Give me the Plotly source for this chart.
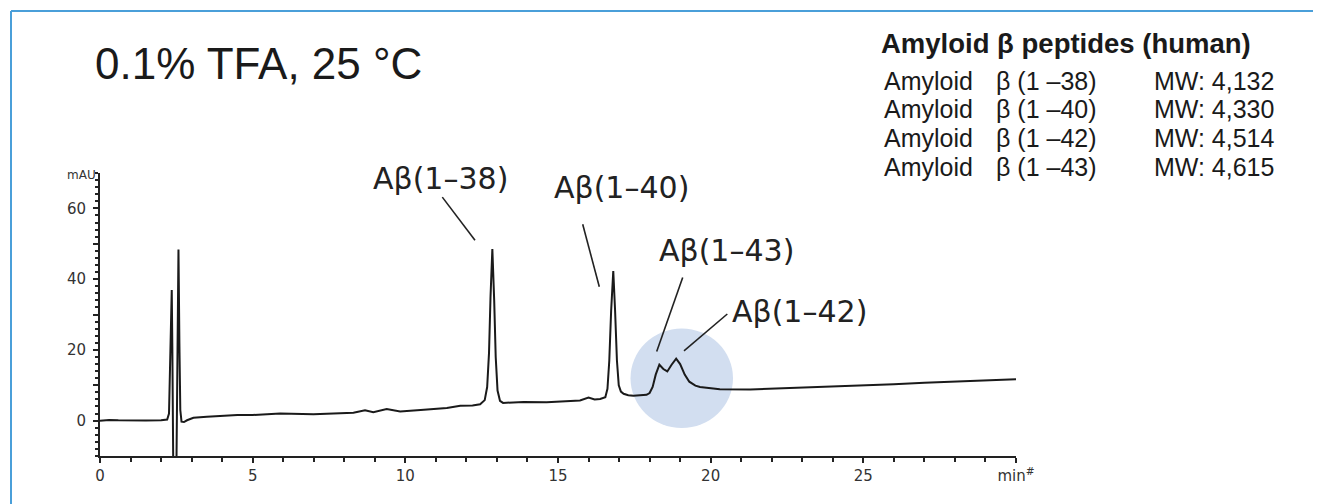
import plotly.graph_objects as go

# Retention time (min) and absorbance (mAU)
time_min = [0.0, 0.3, 0.6, 1.0, 1.5, 2.0, 2.2, 2.26, 2.29, 2.32, 2.35, 2.37, 2.39, 2.41,
            2.49, 2.51, 2.54, 2.57, 2.60, 2.63, 2.67, 2.75, 2.85, 3.06, 3.5, 3.93, 4.5,
            5.0, 5.9, 6.99, 7.6, 8.3, 8.68, 8.95, 9.39, 9.83, 10.5, 11.36, 11.8, 12.2,
            12.45, 12.6, 12.68, 12.74, 12.79, 12.85, 12.91, 12.96, 13.02, 13.1, 13.2,
            13.87, 14.63, 15.2, 15.72, 16.0, 16.2, 16.38, 16.55, 16.62, 16.68, 16.74,
            16.81, 16.87, 16.93, 16.99, 17.06, 17.15, 17.3, 17.47, 17.9, 18.0, 18.1,
            18.2, 18.32, 18.45, 18.58, 18.72, 18.87, 19.0, 19.15, 19.3, 19.5, 19.65,
            20.0, 20.3, 21.3, 22.0, 23.0, 24.0, 25.0, 26.0, 27.0, 28.0, 29.0, 30.0]
signal_mau = [0.0, 0.2, 0.1, 0.0, 0.05, 0.1, 0.3, 2.0, 14.0, 31.0, 36.9, 20.0, -4.0, -25.0,
              -25.0, -4.0, 22.0, 48.4, 22.0, 3.0, -0.3, -0.4, 0.1, 0.8, 1.1, 1.4, 1.6,
              1.6, 2.0, 1.8, 2.0, 2.2, 2.9, 2.4, 3.3, 2.6, 3.0, 3.6, 4.2, 4.3,
              4.6, 5.8, 9.5, 19.0, 35.0, 48.5, 34.0, 18.0, 8.5, 5.6, 5.0,
              5.3, 5.2, 5.4, 5.7, 6.5, 6.0, 6.1, 6.6, 9.0, 17.0, 31.0,
              42.3, 31.0, 17.0, 10.0, 8.2, 7.6, 7.2, 7.0, 7.3, 7.8, 9.5,
              13.0, 15.8, 14.6, 13.9, 15.8, 17.5, 16.0, 13.0, 11.0, 9.9, 9.5,
              9.1, 8.9, 8.8, 9.0, 9.4, 9.7, 10.0, 10.3, 10.7, 11.0, 11.3, 11.7]

# Axis tick labels
x_tick_vals = [0, 5, 10, 15, 20, 25, 30]
x_tick_text = ["0", "5", "10", "15", "20", "25", "min<sup>#</sup>"]
y_tick_vals = [0, 10, 20, 30, 40, 50, 60]
y_tick_text = ["0", " ", "20", " ", "40", " ", "60"]

# Peak labels
peak_labels = ["Aβ(1–38)", "Aβ(1–40)", "Aβ(1–43)", "Aβ(1–42)"]

# Legend block
legend_title = "Amyloid β peptides (human)"
legend_names = ["Amyloid", "Amyloid", "Amyloid", "Amyloid"]
legend_peptides = ["β (1 –38)", "β (1 –40)", "β (1 –42)", "β (1 –43)"]
legend_mw = ["MW: 4,132", "MW: 4,330", "MW: 4,514", "MW: 4,615"]

title_text = "0.1% TFA, 25 °C"
y_unit = "mAU"

# page body adds an 8 px offset; work in reference-screen pixels
OFF = 8
W, H = 1321 - OFF, 504 - OFF
XMIN, XMAX = 0, 30
YMIN, YMAX = -10, 70
L_S, R_S = 100, 1016          # screen px of x = 0 and x = 30
Y0_S, SCALE_Y = 421.0, 3.55   # screen px of y = 0 and px per mAU
B_S = Y0_S - YMIN * SCALE_Y   # bottom (y = -10)
T_S = Y0_S - YMAX * SCALE_Y   # top

L, R = L_S - OFF, R_S - OFF
T, B = T_S - OFF, B_S - OFF


def sx(p):
    return (p - L_S) / (R_S - L_S)


def sy(p):
    return (B_S - p) / (B_S - T_S)


shapes = []
# highlight circle
shapes.append(dict(type="circle", xref="paper", yref="paper", x0=sx(630.5), x1=sx(733),
                   y0=sy(428.5), y1=sy(328.5), fillcolor="#d2def0",
                   line=dict(width=0), layer="below"))
# callout lines
callouts = [((442.3, 196.7), (475, 240)), ((582.7, 224), (599.3, 286.7)),
            ((682.7, 277.3), (656.7, 351.7)), ((727.3, 314), (684, 351))]
for (a, b) in callouts:
    shapes.append(dict(type="line", xref="paper", yref="paper", x0=sx(a[0]), y0=sy(a[1]),
                       x1=sx(b[0]), y1=sy(b[1]), line=dict(color="#222222", width=1.6)))
# frame border (top and left)
shapes.append(dict(type="line", xref="paper", yref="paper", x0=sx(11), y0=sy(10),
                   x1=sx(1330), y1=sy(10), line=dict(color="#4a9fd9", width=2)))
shapes.append(dict(type="line", xref="paper", yref="paper", x0=sx(11), y0=sy(10),
                   x1=sx(11), y1=sy(515), line=dict(color="#4a9fd9", width=2)))

annotations = []
peak_pos = [(440, 178.3), (621.7, 186.7), (726.2, 250), (799.2, 311.7)]
for lab, (px, py) in zip(peak_labels, peak_pos):
    annotations.append(dict(text=lab, x=sx(px), y=sy(py), xref="paper", yref="paper",
                            showarrow=False, xanchor="center", yanchor="middle",
                            font=dict(family="DejaVu Sans", size=30, color="#222222")))

annotations.append(dict(text=title_text, x=sx(93), y=sy(63), xref="paper", yref="paper",
                        showarrow=False, xanchor="left", yanchor="middle",
                        font=dict(family="Liberation Sans", size=44, color="#1a1a1a")))
annotations.append(dict(text="<b>" + legend_title + "</b>", x=sx(879), y=sy(43),
                        xref="paper", yref="paper", showarrow=False, xanchor="left",
                        yanchor="middle",
                        font=dict(family="Liberation Sans", size=27.5, color="#1a1a1a")))
row_y = [80, 108.5, 137.5, 166.5]
for i in range(4):
    for txt, xp in ((legend_names[i], 882), (legend_peptides[i], 994),
                    (legend_mw[i], 1152)):
        annotations.append(dict(text=txt, x=sx(xp), y=sy(row_y[i]),
                                xref="paper", yref="paper", showarrow=False,
                                xanchor="left", yanchor="middle",
                                font=dict(family="Liberation Sans", size=25,
                                          color="#1a1a1a")))
annotations.append(dict(text=y_unit, x=sx(98), y=sy(T_S + 2), xref="paper", yref="paper",
                        showarrow=False, xanchor="right", yanchor="middle",
                        font=dict(family="DejaVu Sans", size=12, color="#333333")))

fig = go.Figure()
fig.add_trace(go.Scatter(x=time_min, y=signal_mau, mode="lines",
                         line=dict(color="#1a1a1a", width=2), showlegend=False,
                         hoverinfo="skip"))

fig.update_layout(
    width=W, height=H,
    margin=dict(l=L, r=W - R, t=T, b=H - B, pad=0, autoexpand=False),
    paper_bgcolor="white", plot_bgcolor="white",
    shapes=shapes, annotations=annotations,
    xaxis=dict(range=[XMIN, XMAX], tickmode="array", tickvals=x_tick_vals,
               ticktext=x_tick_text, ticks="outside", ticklen=5, tickwidth=1.5,
               tickcolor="#222222", showline=True, linecolor="#222222", linewidth=2,
               showgrid=False, zeroline=False,
               tickfont=dict(family="DejaVu Sans", size=15, color="#333333"),
               minor=dict(dtick=1, ticks="outside", ticklen=4, tickwidth=1.5,
                          tickcolor="#222222", showgrid=False)),
    yaxis=dict(range=[YMIN, YMAX], tickmode="array", tickvals=y_tick_vals,
               ticktext=y_tick_text, ticks="outside", ticklen=5, tickwidth=1.5,
               tickcolor="#222222", showline=True, linecolor="#222222", linewidth=2,
               showgrid=False, zeroline=False, ticklabelstandoff=4,
               tickfont=dict(family="DejaVu Sans", size=15, color="#333333"),
               minor=dict(tick0=0, dtick=2, ticks="outside", ticklen=3, tickwidth=1.5,
                          tickcolor="#222222", showgrid=False)),
)

fig.write_html("out.html")
